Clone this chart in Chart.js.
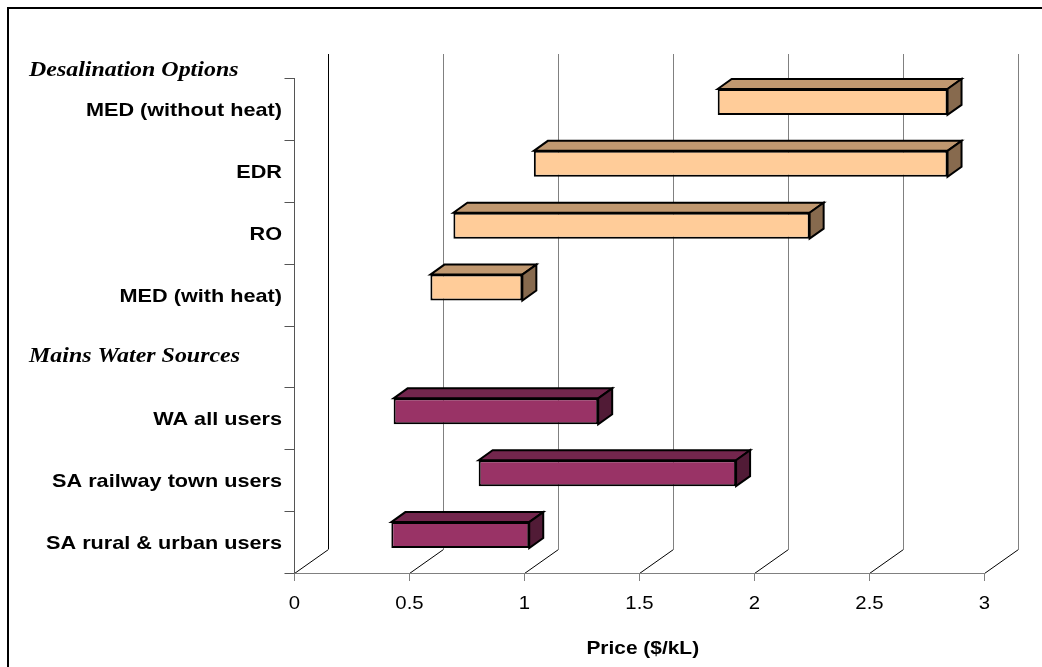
<!DOCTYPE html>
<html>
<head>
<meta charset="utf-8">
<title>Water price ranges</title>
<script src="https://cdn.jsdelivr.net/npm/chart.js@4/dist/chart.umd.min.js"></script>
<style>
  html, body { margin: 0; padding: 0; background: #ffffff; }
  canvas { display: block; }
</style>
</head>
<body>
<canvas id="chart" width="1042" height="667"></canvas>
<script>
// Category rows, top to bottom ('' leaves a gap row under the second heading)
const categories = [
  'MED (without heat)', 'EDR', 'RO', 'MED (with heat)',
  '',
  'WA all users', 'SA railway town users', 'SA rural & urban users'
];
const groupHeadings = ['Desalination Options', 'Mains Water Sources'];
const headingRows = [-1, 4];

// Price ranges, $/kL
const desalStart = [1.80, 1.00, 0.65, 0.55];
const desalEnd   = [2.80, 2.80, 2.20, 0.95];
const mainsStart = [0.39, 0.76, 0.38];
const mainsEnd   = [1.28, 1.88, 0.98];

const xTicks = [0, 0.5, 1, 1.5, 2, 2.5, 3];
const axisTitle = 'Price ($/kL)';

// floating bar data, null where a row belongs to the other group
const desalData = categories.map((c, i) => i < 4 ? [desalStart[i], desalEnd[i]] : null);
const mainsData = categories.map((c, i) => i > 4 ? [mainsStart[i - 5], mainsEnd[i - 5]] : null);

// pseudo-3D geometry: front plane and back wall relative to the bar plane
const FRONT = { dx: -10, dy: 7 };
const BACK = { dx: 24, dy: -17 };
const BAR_DEPTH = { dx: 14, dy: -10 };

function stretchedText(ctx, text, x, y, font, align, sx) {
  ctx.save();
  ctx.font = font;
  ctx.textAlign = align;
  ctx.textBaseline = 'alphabetic';
  ctx.fillStyle = '#000000';
  ctx.translate(x, y);
  ctx.scale(sx, 1);
  ctx.fillText(text, 0, 0);
  ctx.restore();
}

const wallsAndAxes = {
  id: 'wallsAndAxes',
  beforeDatasetsDraw(chart) {
    const { ctx, chartArea: a, scales } = chart;
    const xs = scales.x;
    const frontBottom = a.bottom + FRONT.dy;
    const backBottom = a.bottom + BACK.dy;
    const backTop = a.top + BACK.dy;
    ctx.save();
    ctx.lineWidth = 1;
    xTicks.forEach((v, i) => {
      const px = Math.round(xs.getPixelForValue(v));
      const fx = px + FRONT.dx + 0.5, bx = px + BACK.dx + 0.5;
      // back wall gridline
      ctx.strokeStyle = i === 0 ? '#000000' : '#808080';
      ctx.beginPath();
      ctx.moveTo(bx, backTop);
      ctx.lineTo(bx, backBottom);
      ctx.stroke();
      // floor line
      ctx.strokeStyle = '#000000';
      ctx.beginPath();
      ctx.moveTo(fx, frontBottom + 0.5);
      ctx.lineTo(bx, backBottom + 0.5);
      ctx.stroke();
      // front tick mark
      ctx.strokeStyle = '#808080';
      ctx.beginPath();
      ctx.moveTo(fx, frontBottom);
      ctx.lineTo(fx, frontBottom + 8);
      ctx.stroke();
    });
    // front x axis line
    const x0 = Math.round(xs.getPixelForValue(xTicks[0])) + FRONT.dx;
    const x1 = Math.round(xs.getPixelForValue(xTicks[xTicks.length - 1])) + FRONT.dx;
    ctx.strokeStyle = '#808080';
    ctx.beginPath();
    ctx.moveTo(x0, frontBottom + 0.5);
    ctx.lineTo(x1 + 1, frontBottom + 0.5);
    ctx.stroke();
    // category axis with boundary ticks
    const ax = x0 + 0.5;
    ctx.strokeStyle = '#555555';
    ctx.beginPath();
    ctx.moveTo(ax, a.top + FRONT.dy);
    ctx.lineTo(ax, frontBottom);
    ctx.stroke();
    const step = (a.bottom - a.top) / categories.length;
    for (let i = 0; i <= categories.length; i++) {
      const ty = Math.round(a.top + FRONT.dy + i * step) + 0.5;
      ctx.beginPath();
      ctx.moveTo(ax - 10, ty);
      ctx.lineTo(ax, ty);
      ctx.stroke();
    }
    ctx.restore();
  },
  afterDatasetsDraw(chart) {
    const { ctx } = chart;
    chart.data.datasets.forEach((ds, di) => {
      const meta = chart.getDatasetMeta(di);
      meta.data.forEach((el, j) => {
        if (ds.data[j] == null) return;
        const p = el.getProps(['x', 'y', 'base', 'height'], true);
        const L = Math.min(p.x, p.base), R = Math.max(p.x, p.base);
        const T = p.y - p.height / 2, B = p.y + p.height / 2;
        const dx = BAR_DEPTH.dx, dy = BAR_DEPTH.dy;
        ctx.save();
        ctx.lineWidth = 2;
        ctx.lineJoin = 'miter';
        ctx.strokeStyle = '#000000';
        // top face
        ctx.fillStyle = ds.topColor;
        ctx.beginPath();
        ctx.moveTo(L, T);
        ctx.lineTo(L + dx, T + dy);
        ctx.lineTo(R + dx, T + dy);
        ctx.lineTo(R, T);
        ctx.closePath();
        ctx.fill();
        ctx.stroke();
        // side face
        ctx.fillStyle = ds.sideColor;
        ctx.beginPath();
        ctx.moveTo(R, T);
        ctx.lineTo(R + dx, T + dy);
        ctx.lineTo(R + dx, B + dy);
        ctx.lineTo(R, B);
        ctx.closePath();
        ctx.fill();
        ctx.stroke();
        ctx.restore();
      });
    });
  },
  afterDraw(chart) {
    const { ctx, chartArea: a, scales } = chart;
    const xs = scales.x;
    const step = (a.bottom - a.top) / categories.length;
    const axisX = Math.round(xs.getPixelForValue(0)) + FRONT.dx;
    // category labels
    categories.forEach((c, i) => {
      if (!c) return;
      const cy = a.top + FRONT.dy + (i + 0.5) * step;
      stretchedText(ctx, c, axisX - 12, cy + 7, 'bold 19px "Liberation Sans", Arial, sans-serif', 'right', 1.14);
    });
    // group headings
    groupHeadings.forEach((h, k) => {
      const r = headingRows[k];
      const cy = r < 0 ? a.top + FRONT.dy - 2 : a.top + FRONT.dy + (r + 0.5) * step + 6;
      stretchedText(ctx, h, 29, cy, 'italic bold 21px "Liberation Serif", "Times New Roman", serif', 'left', 1.14);
    });
    // x tick labels
    const frontBottom = a.bottom + FRONT.dy;
    xTicks.forEach(v => {
      const fx = Math.round(xs.getPixelForValue(v)) + FRONT.dx + 0.5;
      stretchedText(ctx, String(v), fx, frontBottom + 36, '18px "Liberation Sans", Arial, sans-serif', 'center', 1.13);
    });
    // axis title
    const mid = (xs.getPixelForValue(xTicks[0]) + xs.getPixelForValue(xTicks[xTicks.length - 1])) / 2 + FRONT.dx;
    stretchedText(ctx, axisTitle, mid + 4, frontBottom + 81, 'bold 19px "Liberation Sans", Arial, sans-serif', 'center', 1.1);
    // outer frame
    ctx.save();
    ctx.strokeStyle = '#000000';
    ctx.lineWidth = 2;
    ctx.strokeRect(8, 8, 1200, 1200);
    ctx.restore();
  }
};

new Chart(document.getElementById('chart'), {
  type: 'bar',
  data: {
    labels: categories,
    datasets: [
      {
        label: 'Desalination Options',
        data: desalData,
        backgroundColor: '#FFCC99',
        topColor: '#C09870',
        sideColor: '#876A4E',
        borderColor: '#000000',
        borderWidth: 2,
        borderSkipped: false,
        grouped: false,
        categoryPercentage: 1,
        barPercentage: 0.42
      },
      {
        label: 'Mains Water Sources',
        data: mainsData,
        backgroundColor: '#993366',
        topColor: '#73264D',
        sideColor: '#511B36',
        borderColor: '#000000',
        borderWidth: 2,
        borderSkipped: false,
        grouped: false,
        categoryPercentage: 1,
        barPercentage: 0.42
      }
    ]
  },
  options: {
    indexAxis: 'y',
    responsive: false,
    animation: false,
    devicePixelRatio: 1,
    layout: { padding: { left: 304, right: 48.5, top: 71, bottom: 101 } },
    plugins: { legend: { display: false }, title: { display: false }, tooltip: { enabled: false } },
    scales: {
      x: { type: 'linear', min: 0, max: 3, display: false, ticks: { stepSize: 0.5 } },
      y: { type: 'category', display: false, offset: true }
    }
  },
  plugins: [wallsAndAxes]
});
</script>
</body>
</html>
